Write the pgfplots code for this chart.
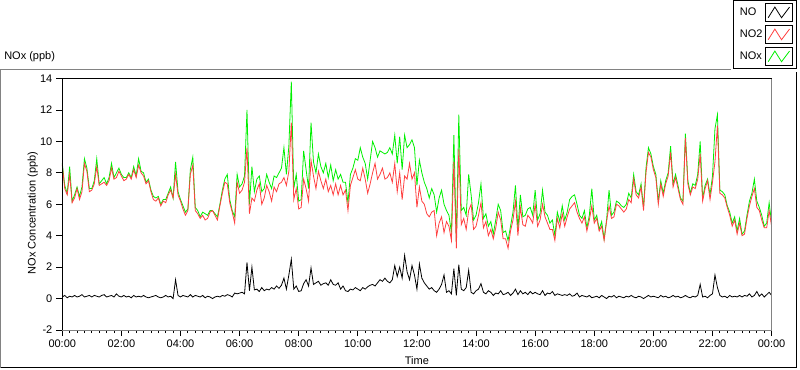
\documentclass[border=0pt]{standalone}
\usepackage{fontspec}
\setmainfont{Liberation Sans}
\usepackage{pgfplots}
\usepackage{pgfplotstable}
\pgfplotsset{compat=1.18}
\definecolor{nored}{RGB}{255,64,64}
\definecolor{nogreen}{RGB}{0,240,0}
\definecolor{frgray}{RGB}{130,130,130}
\pgfplotstableread{
m NO NO2 NOx
0 0.10 8.5 8.6
5 0.20 7.0 7.2
10 0.05 6.6 6.7
15 0.15 7.9 8.4
20 0.10 6.1 6.2
25 0.20 6.4 6.6
30 0.10 7.0 7.1
35 0.15 6.3 6.5
40 0.25 6.8 7.1
45 0.10 8.6 8.9
50 0.15 8.1 8.3
55 0.20 6.8 7.0
60 0.10 6.9 7.0
65 0.20 7.3 7.5
70 0.15 8.4 8.9
75 0.10 7.2 7.3
80 0.20 7.3 7.5
85 0.25 7.4 7.7
90 0.10 7.2 7.3
95 0.15 7.5 7.7
100 0.20 8.3 8.6
105 0.10 7.6 7.7
110 0.30 7.7 8.0
115 0.15 8.1 8.3
120 0.10 7.8 7.9
125 0.20 7.5 7.7
130 0.10 7.6 7.7
135 0.15 7.9 8.0
140 0.05 7.6 7.7
145 0.20 8.2 8.4
150 0.10 7.7 7.8
155 0.15 8.5 8.9
160 0.10 8.0 8.1
165 0.20 7.8 8.0
170 0.10 7.3 7.4
175 0.05 7.5 7.6
180 0.10 6.8 6.9
185 0.15 6.3 6.5
190 0.20 6.2 6.4
195 0.10 6.4 6.5
200 0.05 5.9 6.0
205 0.10 6.2 6.3
210 0.20 6.1 6.3
215 0.10 6.6 6.7
220 0.15 6.9 7.1
225 0.00 6.4 6.4
230 1.20 7.9 8.7
235 0.20 6.6 6.8
240 0.10 6.2 6.3
245 0.20 5.7 5.9
250 0.15 5.3 5.5
255 0.10 5.6 5.7
260 0.25 7.9 8.2
265 0.10 8.5 9.0
270 0.20 5.6 5.8
275 0.15 5.4 5.6
280 0.10 5.1 5.2
285 0.20 5.3 5.5
290 0.05 5.0 5.4
295 0.15 5.1 5.3
300 0.10 5.5 5.6
305 0.00 5.6 5.6
310 0.10 5.3 5.4
315 0.15 5.0 5.2
320 0.10 5.9 6.0
325 0.20 6.7 6.9
330 0.15 7.4 7.6
335 0.25 7.3 7.9
340 0.20 6.1 6.3
345 0.10 5.5 5.6
350 0.35 4.8 5.2
355 0.30 7.4 7.9
360 0.35 6.7 7.1
365 0.40 6.9 7.3
370 0.30 7.4 7.8
375 2.30 9.6 12.0
380 0.50 5.4 6.0
385 2.00 6.4 8.4
390 0.55 6.2 6.8
395 0.60 6.9 7.6
400 0.45 7.3 7.8
405 0.70 6.0 6.8
410 0.50 6.4 7.0
415 0.60 7.2 7.9
420 0.55 6.8 7.4
425 0.70 6.2 7.0
430 0.60 7.1 7.8
435 0.80 6.8 7.7
440 0.65 7.3 8.0
445 0.85 7.4 8.3
450 1.30 7.7 9.6
455 0.60 7.2 7.9
460 1.50 8.1 9.7
465 2.50 11.2 13.8
470 0.60 6.3 7.0
475 0.80 7.0 7.9
480 0.45 5.7 6.2
485 0.50 5.8 6.3
490 0.95 7.6 9.4
495 1.20 7.0 8.2
500 0.80 6.2 7.0
505 1.95 8.8 11.2
510 0.90 7.8 8.7
515 1.00 7.0 8.0
520 1.10 8.1 9.2
525 0.85 7.5 8.4
530 0.95 7.0 8.0
535 1.00 7.6 8.6
540 0.85 6.8 7.7
545 1.20 7.2 8.5
550 0.90 6.6 7.5
555 0.85 7.3 8.2
560 1.00 6.6 7.6
565 0.60 7.2 7.9
570 0.80 6.6 7.4
575 0.50 6.9 7.4
580 0.45 5.6 6.1
585 0.60 7.2 7.9
590 0.55 7.7 8.3
595 0.70 8.2 8.9
600 0.60 7.6 8.8
605 0.50 7.5 9.6
610 0.70 8.3 9.0
615 0.60 7.6 8.6
620 0.75 6.7 7.6
625 0.85 7.3 8.8
630 0.90 8.0 10.0
635 0.80 8.6 9.6
640 1.00 7.6 9.0
645 1.20 7.9 9.4
650 1.10 8.3 9.3
655 1.30 7.6 9.2
660 1.10 7.7 9.3
665 1.00 8.0 9.6
670 1.20 7.4 9.2
675 2.10 8.6 10.4
680 1.40 6.8 8.6
685 2.00 8.0 10.3
690 1.30 6.3 8.2
695 2.75 7.8 10.4
700 1.70 7.6 9.6
705 1.20 8.6 9.8
710 2.10 7.6 10.1
715 1.50 8.0 9.6
720 0.60 5.8 7.2
725 2.20 7.1 8.8
730 1.30 6.2 8.0
735 1.00 6.0 7.4
740 0.80 5.4 7.0
745 0.60 5.2 6.4
750 0.70 5.5 7.0
755 0.50 5.6 6.6
760 0.40 4.0 5.5
765 0.60 4.8 6.4
770 0.90 5.2 6.9
775 1.50 4.2 6.0
780 0.40 4.9 5.6
785 0.50 4.6 5.3
790 0.30 3.7 4.2
795 1.90 8.7 10.4
800 0.20 3.2 3.6
805 2.15 9.5 11.7
810 0.60 4.7 5.6
815 0.50 5.1 5.8
820 0.70 4.4 5.3
825 1.80 5.6 7.9
830 0.40 6.0 6.6
835 0.30 4.4 5.0
840 0.50 4.6 5.3
845 0.60 5.3 6.1
850 0.95 6.1 7.3
855 0.40 4.5 5.1
860 0.30 4.9 5.4
865 0.50 4.0 4.6
870 0.40 4.4 4.9
875 0.20 3.8 4.1
880 0.35 4.5 5.0
885 0.30 5.5 6.0
890 0.50 5.0 5.6
895 0.25 3.8 4.2
900 0.30 3.8 4.3
905 0.40 3.2 3.7
910 0.20 4.3 4.6
915 0.35 5.0 5.5
920 0.60 6.2 7.2
925 0.25 4.0 4.4
930 0.50 5.8 6.6
935 0.30 4.7 5.2
940 0.40 4.6 5.3
945 0.25 5.3 5.7
950 0.45 5.1 5.8
955 0.30 4.8 5.3
960 0.40 6.0 6.9
965 0.30 4.6 5.0
970 0.25 5.0 5.4
975 0.50 6.0 6.9
980 0.20 5.2 5.5
985 0.35 4.8 5.3
990 0.30 4.4 4.8
995 0.45 4.4 5.0
1000 0.20 3.7 4.0
1005 0.30 5.1 5.5
1010 0.25 4.5 4.9
1015 0.20 5.4 5.9
1020 0.25 4.6 5.0
1025 0.20 5.2 5.5
1030 0.30 5.7 6.3
1035 0.15 5.9 6.5
1040 0.20 6.1 6.6
1045 0.35 5.5 6.0
1050 0.10 5.1 5.3
1055 0.20 4.8 5.1
1060 0.15 5.2 5.6
1065 0.10 4.3 4.5
1070 0.20 5.0 5.3
1075 0.05 5.9 7.0
1080 0.10 4.8 5.0
1085 0.15 5.1 5.3
1090 0.05 4.3 4.4
1095 0.20 4.6 4.9
1100 0.10 3.7 3.8
1105 0.00 4.9 5.0
1110 0.15 5.9 6.9
1115 0.10 5.1 5.3
1120 0.20 5.2 5.5
1125 0.05 6.0 6.2
1130 0.15 5.9 6.1
1135 0.10 5.7 5.9
1140 0.05 5.5 5.8
1145 0.15 5.7 6.0
1150 0.10 6.3 6.7
1155 0.20 6.1 6.4
1160 0.10 7.6 7.9
1165 0.05 6.6 6.8
1170 0.15 6.4 6.6
1175 0.10 7.1 7.3
1180 0.00 5.6 5.8
1185 0.10 8.0 8.3
1190 0.20 9.3 9.6
1195 0.10 9.0 9.2
1200 0.15 8.2 8.4
1205 0.10 7.7 7.9
1210 0.05 6.0 6.2
1215 0.20 7.3 7.5
1220 0.10 6.5 6.7
1225 0.15 7.3 7.5
1230 0.05 7.8 8.0
1235 0.10 9.3 9.7
1240 0.20 7.1 7.3
1245 0.10 7.7 7.9
1250 0.15 7.0 7.2
1255 0.05 6.3 6.4
1260 0.10 6.0 6.2
1265 0.20 10.2 10.5
1270 0.10 7.3 7.5
1275 0.05 6.6 6.7
1280 0.15 7.1 7.3
1285 0.10 7.0 7.2
1290 0.20 7.6 7.9
1295 0.90 9.2 10.0
1300 0.10 6.2 6.4
1305 0.15 7.0 7.2
1310 0.05 7.5 7.6
1315 0.20 6.3 6.6
1320 0.30 7.4 7.8
1325 1.50 8.7 10.8
1330 0.70 11.0 11.7
1335 0.20 6.7 6.9
1340 0.10 6.6 6.8
1345 0.15 6.4 6.6
1350 0.05 5.8 5.9
1355 0.20 5.3 5.5
1360 0.10 4.6 4.8
1365 0.15 5.0 5.2
1370 0.10 4.1 4.3
1375 0.20 4.8 5.1
1380 0.10 4.0 4.1
1385 0.20 4.1 4.3
1390 0.15 5.1 5.3
1395 0.30 5.9 6.2
1400 0.10 6.5 6.7
1405 0.20 7.0 7.6
1410 0.45 5.8 6.2
1415 0.15 5.6 5.8
1420 0.30 5.0 5.3
1425 0.10 4.5 4.6
1430 0.25 4.5 4.8
1435 0.40 5.6 6.1
1440 0.20 4.6 4.8
}\datatable
\begin{document}
\fontsize{8.25}{10}\selectfont
\begin{tikzpicture}
\path[use as bounding box] (0,0) rectangle (600pt,276.75pt);
\draw[frgray,line width=0.75pt] (0.4pt,1.1pt) -- (0.4pt,225pt) -- (548.5pt,225pt);
\draw[black,line width=0.75pt] (0.4pt,1.1pt) -- (597.4pt,1.1pt) -- (597.4pt,222.75pt);
\node[anchor=west,inner sep=0pt] at (3pt,234pt) {NOx (ppb)};
\begin{axis}[
  at={(46.7pt,29.25pt)}, anchor=south west,
  scale only axis, width=532pt, height=188.6pt,
  xmin=0, xmax=1440, ymin=-2, ymax=14,
  clip=false,
  axis line style={draw=none},
  xtick={0,120,...,1440},
  xticklabels={00:00,02:00,04:00,06:00,08:00,10:00,12:00,14:00,16:00,18:00,20:00,22:00,00:00},
  minor x tick num=7,
  ytick={-2,0,...,14},
  tick align=outside, xtick pos=bottom, ytick pos=left,
  major tick length=4.5pt, minor tick length=2.25pt,
  tick style={black,line width=0.6pt},
  tick label style={font=\fontsize{8.25}{10}\selectfont, /pgf/number format/assume math mode=true},
  every axis x label/.style={at={(axis description cs:0.5,0)}, anchor=center, yshift=-23.25pt},
  every axis y label/.style={at={(axis description cs:-0.0414,0.465)}, anchor=center, rotate=90},
  xlabel={Time}, ylabel={NOx Concentration (ppb)},
  legend style={at={(axis description cs:1.0357,1.311)}, anchor=north east, draw=black, fill=white,
    font=\fontsize{8.25}{10}\selectfont, inner xsep=3pt, inner ysep=2pt, row sep=3pt, line width=0.6pt},
  legend cell align=left,
  legend plot pos=right,
  legend image code/.code={
    \draw[black,line width=0.5pt,fill=white] (0pt,-6.5pt) rectangle (20pt,6.5pt);
    \draw[#1,line width=0.6pt] (2pt,-4pt) -- (7pt,4pt) -- (12pt,-4pt) -- (18pt,4pt);
  },
]
\addlegendimage{color=black}
\addlegendentry{NO}
\addlegendimage{color=nored}
\addlegendentry{NO2}
\addlegendimage{color=nogreen}
\addlegendentry{NOx}
\addplot[nogreen, line width=0.6pt, forget plot] table[x=m, y=NOx] {\datatable};
\addplot[nored, line width=0.6pt, forget plot] table[x=m, y=NO2] {\datatable};
\addplot[black, line width=0.6pt, forget plot] table[x=m, y=NO] {\datatable};
\draw[black,line width=0.75pt] (rel axis cs:0,0) -- (rel axis cs:0,1) -- (rel axis cs:1,1);
\draw[frgray,line width=0.75pt] (rel axis cs:1,1) -- (rel axis cs:1,0) -- (rel axis cs:0,0);
\end{axis}
\end{tikzpicture}
\end{document}
